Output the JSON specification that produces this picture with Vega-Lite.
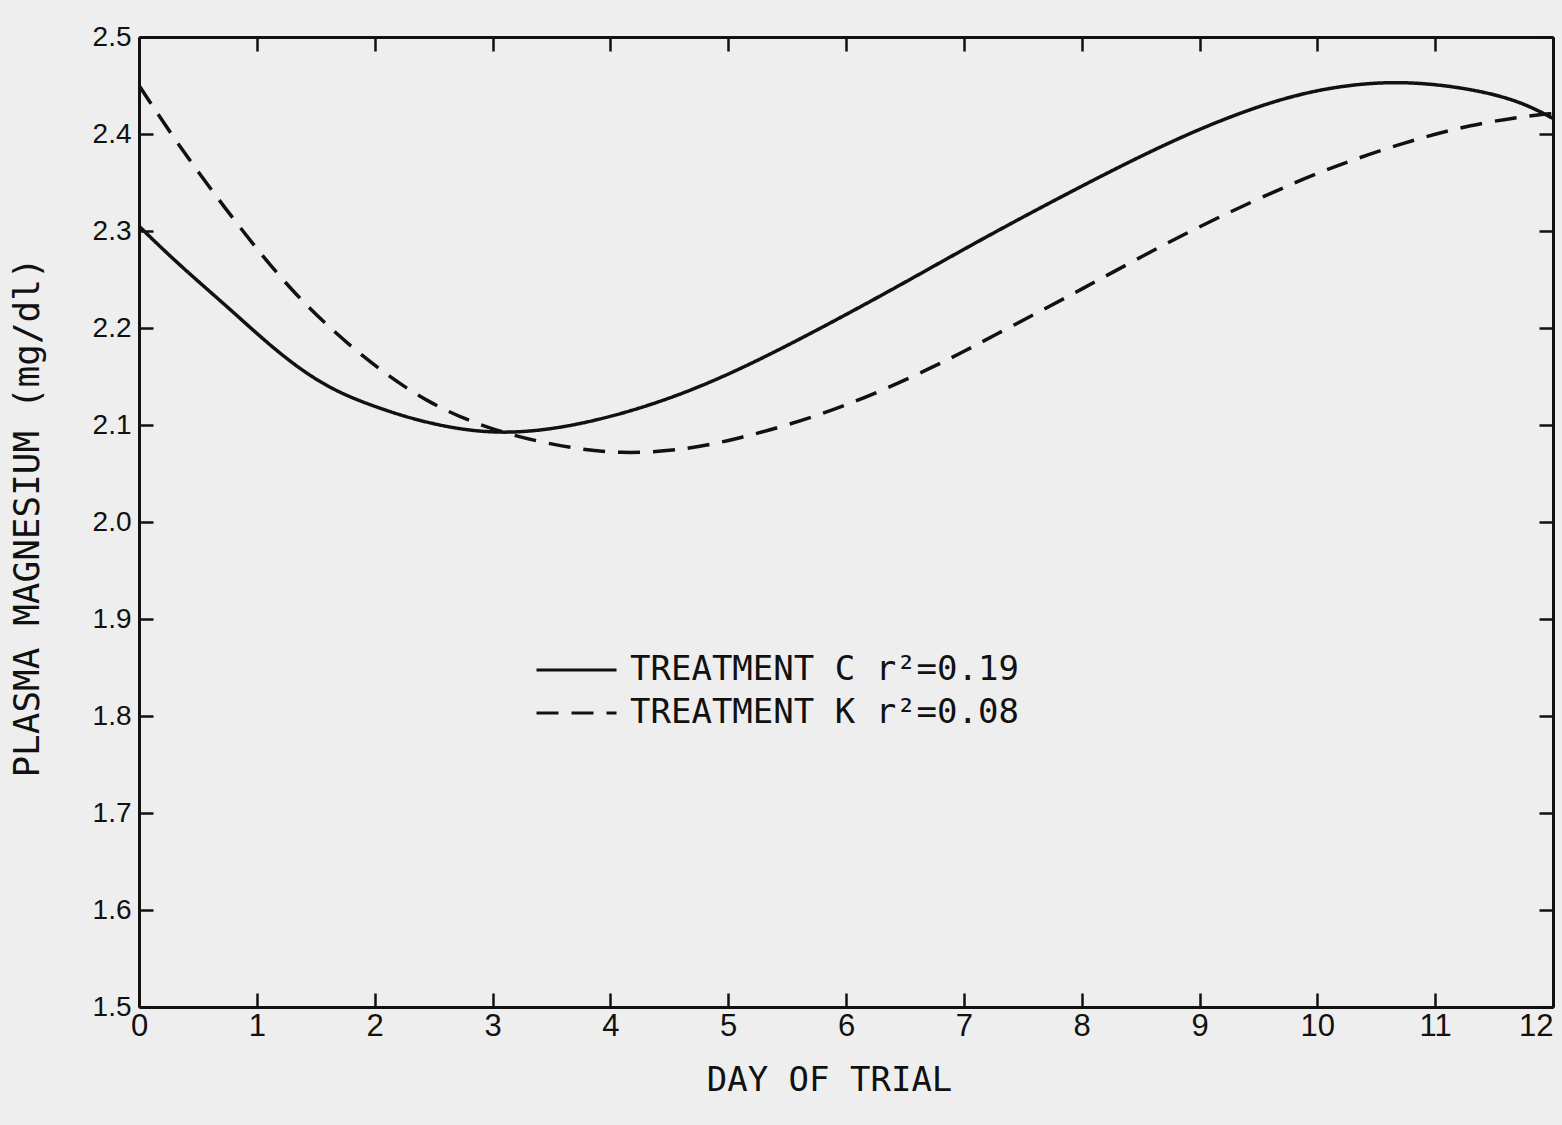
{
  "$schema": "https://vega.github.io/schema/vega-lite/v6.json",
  "autosize": "none",
  "width": 1414,
  "height": 970,
  "padding": {"left": 139, "top": 37, "right": 9, "bottom": 118},
  "background": "#eeeeee",
  "config": {
    "view": {"stroke": null},
    "axis": {"domainColor": "#111", "domainWidth": 3, "tickColor": "#111", "tickWidth": 2.5, "grid": false, "labelColor": "#111", "titleColor": "#111"}
  },
  "data": {
    "values": [
      {"day": 0, "mg": 2.305, "series": "TREATMENT C r²=0.19"},
      {"day": 0.34, "mg": 2.265, "series": "TREATMENT C r²=0.19"},
      {"day": 0.76, "mg": 2.221, "series": "TREATMENT C r²=0.19"},
      {"day": 1.19, "mg": 2.173, "series": "TREATMENT C r²=0.19"},
      {"day": 1.61, "mg": 2.137, "series": "TREATMENT C r²=0.19"},
      {"day": 2.04, "mg": 2.117, "series": "TREATMENT C r²=0.19"},
      {"day": 2.46, "mg": 2.101, "series": "TREATMENT C r²=0.19"},
      {"day": 3.1, "mg": 2.088, "series": "TREATMENT C r²=0.19"},
      {"day": 3.9, "mg": 2.103, "series": "TREATMENT C r²=0.19"},
      {"day": 4.76, "mg": 2.137, "series": "TREATMENT C r²=0.19"},
      {"day": 5.61, "mg": 2.188, "series": "TREATMENT C r²=0.19"},
      {"day": 6.46, "mg": 2.244, "series": "TREATMENT C r²=0.19"},
      {"day": 7.14, "mg": 2.291, "series": "TREATMENT C r²=0.19"},
      {"day": 7.99, "mg": 2.346, "series": "TREATMENT C r²=0.19"},
      {"day": 8.84, "mg": 2.398, "series": "TREATMENT C r²=0.19"},
      {"day": 9.6, "mg": 2.434, "series": "TREATMENT C r²=0.19"},
      {"day": 10.17, "mg": 2.45, "series": "TREATMENT C r²=0.19"},
      {"day": 10.73, "mg": 2.455, "series": "TREATMENT C r²=0.19"},
      {"day": 11.3, "mg": 2.447, "series": "TREATMENT C r²=0.19"},
      {"day": 11.72, "mg": 2.434, "series": "TREATMENT C r²=0.19"},
      {"day": 12, "mg": 2.416, "series": "TREATMENT C r²=0.19"},
      {"day": 0, "mg": 2.45, "series": "TREATMENT K r²=0.08"},
      {"day": 0.37, "mg": 2.382, "series": "TREATMENT K r²=0.08"},
      {"day": 0.85, "mg": 2.304, "series": "TREATMENT K r²=0.08"},
      {"day": 1.33, "mg": 2.232, "series": "TREATMENT K r²=0.08"},
      {"day": 1.9, "mg": 2.169, "series": "TREATMENT K r²=0.08"},
      {"day": 2.46, "mg": 2.121, "series": "TREATMENT K r²=0.08"},
      {"day": 3.03, "mg": 2.093, "series": "TREATMENT K r²=0.08"},
      {"day": 3.6, "mg": 2.077, "series": "TREATMENT K r²=0.08"},
      {"day": 4.1, "mg": 2.07, "series": "TREATMENT K r²=0.08"},
      {"day": 4.6, "mg": 2.074, "series": "TREATMENT K r²=0.08"},
      {"day": 5.04, "mg": 2.084, "series": "TREATMENT K r²=0.08"},
      {"day": 5.89, "mg": 2.113, "series": "TREATMENT K r²=0.08"},
      {"day": 6.74, "mg": 2.159, "series": "TREATMENT K r²=0.08"},
      {"day": 7.22, "mg": 2.19, "series": "TREATMENT K r²=0.08"},
      {"day": 7.99, "mg": 2.239, "series": "TREATMENT K r²=0.08"},
      {"day": 8.84, "mg": 2.296, "series": "TREATMENT K r²=0.08"},
      {"day": 9.67, "mg": 2.343, "series": "TREATMENT K r²=0.08"},
      {"day": 10.17, "mg": 2.368, "series": "TREATMENT K r²=0.08"},
      {"day": 10.73, "mg": 2.391, "series": "TREATMENT K r²=0.08"},
      {"day": 11.3, "mg": 2.41, "series": "TREATMENT K r²=0.08"},
      {"day": 11.87, "mg": 2.42, "series": "TREATMENT K r²=0.08"},
      {"day": 12, "mg": 2.421, "series": "TREATMENT K r²=0.08"}
    ]
  },
  "layer": [
    {
      "mark": {"type": "line", "interpolate": "basis", "color": "#111", "strokeWidth": 3.5, "clip": true},
      "encoding": {
        "x": {
          "field": "day", "type": "quantitative",
          "scale": {"domain": [0, 12], "nice": false, "zero": false},
          "axis": {
            "orient": "bottom", "values": [0,1,2,3,4,5,6,7,8,9,10,11,12],
            "tickSize": -14, "labelPadding": 18, "labelFlush": false,
            "labelAlign": {"condition": {"test": "datum.value == 12", "value": "right"}, "value": "center"},
            "labelFont": "Liberation Sans", "labelFontSize": 31,
            "title": "DAY OF TRIAL", "titleFont": "DejaVu Sans Mono", "titleFontSize": 34, "titleFontWeight": "normal", "titlePadding": 22, "titleX": 690
          }
        },
        "y": {
          "field": "mg", "type": "quantitative",
          "scale": {"domain": [1.5, 2.5], "nice": false, "zero": false},
          "axis": {
            "orient": "left", "values": [1.5,1.6,1.7,1.8,1.9,2.0,2.1,2.2,2.3,2.4,2.5], "format": ".1f",
            "tickSize": -14, "labelPadding": 22, "labelFlush": false,
            "labelFont": "Liberation Sans", "labelFontSize": 28,
            "title": "PLASMA MAGNESIUM (mg/dl)", "titleFont": "DejaVu Sans Mono", "titleFontSize": 36, "titleFontWeight": "normal", "titlePadding": 46, "titleY": 480
          }
        },
        "strokeDash": {
          "field": "series", "type": "nominal",
          "scale": {"domain": ["TREATMENT C r²=0.19", "TREATMENT K r²=0.08"], "range": [[1, 0], [22, 13]]},
          "legend": {
            "orient": "none", "legendX": 396, "legendY": 615, "title": null,
            "symbolType": "stroke", "symbolSize": 6400, "symbolStrokeWidth": 3, "symbolStrokeColor": "#111",
            "clipHeight": 36, "rowPadding": 7,
            "labelFont": "DejaVu Sans Mono", "labelFontSize": 34, "labelColor": "#111", "labelOffset": 12, "labelLimit": 700
          }
        }
      }
    },
    {
      "mark": {"type": "line", "opacity": 0},
      "encoding": {
        "x": {
          "field": "day", "type": "quantitative",
          "axis": {"orient": "top", "values": [0,1,2,3,4,5,6,7,8,9,10,11,12], "tickSize": -14, "labels": false, "title": null}
        },
        "y": {
          "field": "mg", "type": "quantitative",
          "axis": {"orient": "right", "values": [1.5,1.6,1.7,1.8,1.9,2.0,2.1,2.2,2.3,2.4,2.5], "tickSize": -14, "labels": false, "title": null}
        }
      }
    }
  ],
  "resolve": {"axis": {"x": "independent", "y": "independent"}}
}
